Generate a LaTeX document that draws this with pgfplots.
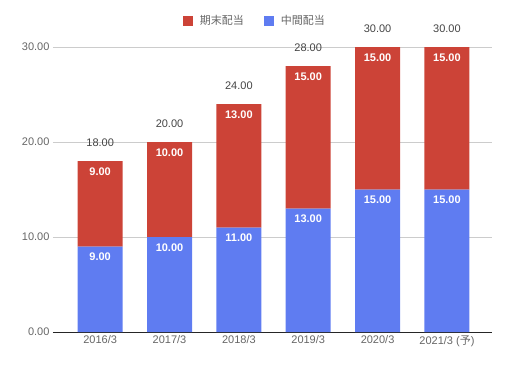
\documentclass[border=0pt]{standalone}
\usepackage{pgfplots}
\pgfplotsset{compat=1.18}
\usepackage{fontspec}
\setmainfont{Liberation Sans}
\newfontfamily\cjk{Noto Sans CJK JP}
\definecolor{myred}{HTML}{CC4337}
\definecolor{myblue}{HTML}{5F7CF1}
\definecolor{ticktxt}{HTML}{666666}
\definecolor{toptxt}{HTML}{444444}
\pgfplotsset{common/.style={
  scale only axis, width=439pt, height=285pt,
  at={(0,0)}, anchor=south west,
  xmin=-0.68, xmax=5.65, ymin=0, ymax=30}}
\begin{document}
\begin{tikzpicture}
\useasboundingbox (-53pt,-36pt) rectangle (455pt,332pt);
\begin{axis}[common,
  ybar stacked, bar width=45pt,
  xtick={0,...,5},
  xticklabels={2016/3,2017/3,2018/3,2019/3,2020/3,{2021/3 ({\cjk 予})}},
  ytick={0,10,20,30},
  /pgf/number format/assume math mode=true,
  yticklabel style={/pgf/number format/.cd,fixed,fixed zerofill,precision=2},
  ticklabel style={font=\fontsize{11}{13}\selectfont, text=ticktxt},
  ymajorgrids, grid style={draw=black!20, line width=0.8pt},
  axis x line*=bottom, axis y line*=left,
  y axis line style={draw=none},
  x axis line style={draw=black!85, line width=0.9pt},
  major tick length=0pt,
  reverse legend,
  legend style={draw=none, at={(0.46,1.0912)}, anchor=center, legend columns=-1,
    font=\cjk\fontsize{11}{13}\selectfont, text=ticktxt,
    /tikz/every odd column/.append style={column sep=5pt},
    /tikz/every even column/.append style={column sep=18pt}},
  legend image code/.code={\fill[#1] (0pt,-5pt) rectangle (10pt,5pt);},
]
\addplot[fill=myblue, draw=none]
  coordinates {(0,9) (1,10) (2,11) (3,13) (4,15) (5,15)};
\addlegendentry{中間配当}
\addplot[fill=myred, draw=none]
  coordinates {(0,9) (1,10) (2,13) (3,15) (4,15) (5,15)};
\addlegendentry{期末配当}
\end{axis}
\begin{axis}[common, hide axis, point meta=explicit symbolic]
\addplot[only marks, mark=none, nodes near coords,
  nodes near coords style={anchor=center, yshift=-10.5pt, text=white, font=\bfseries\fontsize{11}{13}\selectfont}]
  coordinates {(0,9) [9.00] (1,10) [10.00] (2,11) [11.00] (3,13) [13.00] (4,15) [15.00] (5,15) [15.00]};
\addplot[only marks, mark=none, nodes near coords,
  nodes near coords style={anchor=center, yshift=-10.5pt, text=white, font=\bfseries\fontsize{11}{13}\selectfont}]
  coordinates {(0,18) [9.00] (1,20) [10.00] (2,24) [13.00] (3,28) [15.00] (4,30) [15.00] (5,30) [15.00]};
\addplot[only marks, mark=none, nodes near coords,
  nodes near coords style={anchor=center, yshift=18.5pt, text=toptxt, font=\fontsize{11}{13}\selectfont}]
  coordinates {(0,18) [18.00] (1,20) [20.00] (2,24) [24.00] (3,28) [28.00] (4,30) [30.00] (5,30) [30.00]};
\end{axis}
\end{tikzpicture}
\end{document}
